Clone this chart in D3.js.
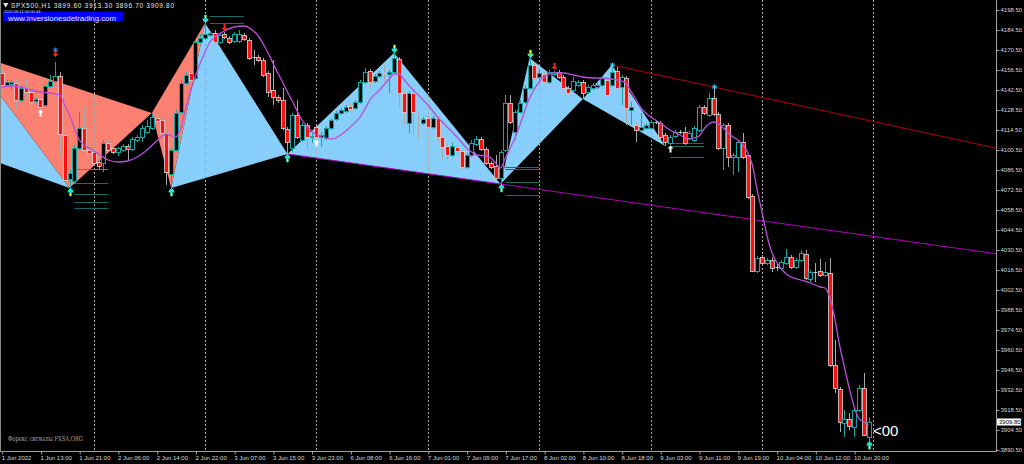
<!DOCTYPE html>
<html><head><meta charset="utf-8">
<script src="https://cdn.jsdelivr.net/npm/d3@7"></script>
<style>html,body{margin:0;padding:0;background:#000;overflow:hidden}svg{display:block}</style>
</head><body><svg id="c" width="1024" height="464"></svg>
<script>
// ---------------- data ----------------
const symbolInfo = "SPX500,H1  3899.60 3913.30 3896.70 3909.80";
const siteName = "www.inversionesdetrading.com";
const serverTime = "2022.06.11 00:00:44";
const footerText = "Форекс сигналы FXSA.ORG";
const lastPrice = 3909.80;
const timerText = "<00";

// [open, high, low, close] per H1 bar
const ohlc = [
[4154.4,4156.5,4143.9,4146.0],[4146.0,4149.5,4144.6,4148.1],[4146.7,4149.5,4142.5,4148.1],[4147.4,4149.5,4129.2,4135.5],[4135.5,4145.3,4134.1,4143.9],
[4143.9,4150.2,4136.2,4141.1],[4141.1,4142.5,4127.1,4134.1],[4134.8,4136.9,4133.4,4136.2],[4136.2,4137.6,4129.2,4130.6],[4132.0,4146.7,4130.6,4145.3],
[4145.3,4153.0,4143.9,4148.8],[4148.8,4162.1,4147.4,4152.3],[4152.3,4155.1,4095.6,4111.7],[4111.0,4114.5,4078.1,4079.5],[4080.2,4086.5,4073.9,4084.4],
[4078.8,4104.0,4076.7,4101.9],[4101.9,4127.1,4100.5,4115.9],[4115.9,4129.9,4099.1,4100.5],[4100.5,4102.6,4097.0,4098.4],[4099.1,4100.5,4090.0,4091.4],
[4092.1,4093.5,4087.2,4089.3],[4091.4,4107.5,4085.1,4105.4],[4105.4,4108.2,4099.1,4100.5],[4101.9,4103.3,4097.7,4099.1],[4099.1,4102.6,4096.3,4101.9],
[4100.5,4104.7,4099.1,4103.3],[4103.3,4104.7,4093.5,4101.2],[4101.2,4109.6,4099.8,4108.2],[4107.5,4111.0,4106.1,4109.6],[4109.6,4118.0,4106.1,4115.9],
[4113.1,4121.5,4111.7,4117.3],[4115.9,4126.4,4114.5,4123.6],[4122.9,4125.0,4119.4,4120.8],[4121.5,4122.9,4111.0,4112.4],[4112.4,4113.8,4076.0,4085.1],
[4083.7,4101.9,4073.9,4100.5],[4100.5,4128.5,4099.1,4126.4],[4127.1,4149.5,4125.7,4147.4],[4147.4,4155.1,4146.0,4153.0],[4154.4,4160.0,4148.1,4149.5],
[4150.9,4177.5,4149.5,4176.1],[4176.1,4181.7,4174.7,4178.9],[4178.9,4189.4,4177.5,4181.7],[4181.0,4183.8,4179.6,4182.4],[4182.4,4184.5,4174.7,4176.1],
[4176.1,4182.4,4174.7,4181.0],[4181.7,4183.1,4178.2,4179.6],[4178.9,4180.3,4174.7,4176.1],[4176.8,4183.1,4175.4,4181.7],[4176.8,4184.5,4175.4,4181.7],
[4181.0,4182.4,4176.8,4178.2],[4177.5,4178.9,4163.5,4164.9],[4165.6,4170.5,4160.0,4165.3],[4165.6,4167.0,4162.1,4163.5],[4163.5,4164.9,4151.6,4153.0],
[4154.4,4155.8,4137.6,4141.1],[4142.5,4163.5,4132.0,4137.6],[4137.6,4139.0,4133.4,4135.5],[4135.5,4143.9,4114.5,4115.9],[4115.2,4116.6,4097.7,4106.1],
[4101.9,4126.4,4099.1,4125.0],[4125.0,4135.5,4108.2,4109.6],[4107.5,4119.4,4106.1,4118.0],[4118.0,4119.4,4100.5,4109.6],[4109.6,4112.4,4105.4,4110.3],
[4116.6,4118.0,4108.2,4109.6],[4109.6,4113.1,4102.6,4111.0],[4108.9,4117.3,4107.5,4115.9],[4115.9,4122.9,4114.5,4121.5],[4122.2,4127.8,4120.8,4126.4],
[4126.4,4129.9,4125.0,4128.5],[4127.8,4132.0,4126.4,4130.6],[4131.3,4133.4,4127.1,4129.2],[4129.9,4135.5,4128.5,4134.1],[4134.1,4149.5,4132.7,4148.1],
[4148.1,4157.9,4146.7,4155.1],[4155.8,4157.2,4144.6,4148.1],[4148.8,4153.7,4147.4,4152.3],[4152.3,4155.8,4150.9,4154.4],[4154.4,4160.0,4148.1,4154.1],
[4153.7,4156.5,4140.4,4155.1],[4155.1,4168.4,4153.7,4164.9],[4164.2,4165.6,4129.9,4140.4],[4140.4,4141.8,4118.0,4127.1],[4119.4,4141.8,4112.4,4140.4],
[4140.4,4141.8,4111.0,4127.1],[4120.8,4127.1,4108.2,4120.5],[4119.4,4123.6,4118.0,4122.2],[4122.9,4124.3,4115.2,4116.6],[4116.6,4124.3,4115.2,4122.9],
[4122.9,4124.3,4106.1,4109.6],[4109.6,4111.0,4093.5,4102.6],[4103.3,4104.7,4093.5,4097.0],[4097.0,4106.1,4095.6,4103.3],[4102.6,4104.0,4098.4,4099.8],
[4099.8,4101.2,4087.2,4088.6],[4088.6,4098.4,4087.2,4097.0],[4097.0,4107.5,4095.6,4105.4],[4104.7,4110.3,4103.3,4108.2],[4108.2,4109.6,4099.8,4101.2],
[4101.2,4102.6,4090.0,4091.4],[4091.4,4092.8,4087.2,4088.6],[4089.3,4097.0,4079.5,4080.9],[4080.9,4100.5,4076.7,4099.1],[4100.5,4139.0,4099.1,4133.4],
[4133.4,4139.0,4118.7,4120.1],[4113.1,4128.5,4107.5,4127.1],[4127.1,4135.5,4125.7,4133.4],[4134.1,4146.0,4132.7,4143.9],[4143.9,4164.9,4142.5,4160.0],
[4160.0,4162.1,4149.5,4150.9],[4151.6,4156.5,4149.5,4154.4],[4153.7,4155.1,4146.7,4148.1],[4148.1,4156.5,4146.7,4155.1],[4153.7,4155.8,4152.3,4155.1],
[4155.1,4156.5,4150.2,4151.6],[4151.6,4153.0,4142.5,4143.9],[4143.9,4145.3,4139.0,4140.4],[4142.5,4151.6,4141.1,4148.8],[4146.0,4149.5,4144.6,4148.1],
[4148.1,4149.5,4136.2,4140.4],[4141.1,4146.0,4139.7,4144.6],[4143.9,4147.4,4142.5,4146.0],[4144.6,4147.4,4143.2,4146.0],[4146.0,4152.3,4144.6,4150.9],
[4149.5,4150.9,4137.6,4139.0],[4146.0,4160.0,4144.6,4155.1],[4155.8,4158.6,4142.5,4143.9],[4144.6,4153.0,4132.0,4151.6],[4150.9,4152.3,4118.0,4129.9],
[4128.5,4134.1,4118.0,4130.6],[4118.0,4120.1,4106.1,4114.5],[4114.5,4126.4,4113.1,4116.6],[4115.9,4119.4,4114.5,4118.0],[4115.9,4121.5,4114.5,4120.1],
[4120.1,4121.5,4118.7,4119.8],[4119.4,4120.8,4108.2,4109.6],[4111.0,4112.4,4103.3,4106.1],[4105.4,4111.0,4104.0,4109.6],[4110.3,4114.5,4108.9,4113.1],
[4113.1,4114.5,4111.7,4112.8],[4113.1,4116.6,4104.0,4105.4],[4108.9,4113.8,4107.5,4112.4],[4107.5,4117.3,4106.1,4115.9],[4114.5,4132.0,4113.1,4130.6],
[4130.6,4132.0,4125.0,4126.4],[4125.0,4140.4,4123.6,4136.9],[4136.9,4144.6,4124.3,4125.7],[4125.7,4127.1,4100.5,4101.9],[4101.9,4119.4,4086.5,4118.0],
[4118.0,4119.4,4088.6,4095.6],[4095.6,4098.4,4083.0,4097.0],[4095.6,4107.5,4085.1,4106.1],[4106.1,4112.4,4094.2,4095.6],[4097.0,4098.4,4066.2,4067.6],
[4068.3,4069.7,4015.1,4015.8],[4015.8,4026.3,4014.4,4024.9],[4025.6,4027.0,4020.0,4021.4],[4021.4,4024.9,4020.0,4023.5],[4023.5,4025.6,4015.1,4017.9],
[4018.6,4020.7,4015.8,4018.3],[4017.9,4023.5,4016.5,4022.1],[4021.4,4031.2,4020.0,4025.6],[4025.6,4027.0,4017.2,4018.6],[4018.6,4024.9,4017.2,4023.5],
[4023.5,4030.5,4022.1,4028.4],[4027.7,4030.5,4009.5,4010.9],[4010.2,4016.5,4008.1,4015.1],[4015.1,4021.4,4008.1,4014.8],[4015.8,4024.2,4011.6,4013.0],
[4013.0,4022.1,4011.6,4015.1],[4014.4,4024.9,3948.6,3950.0],[3950.0,3967.5,3930.4,3933.9],[3933.2,3934.6,3903.1,3910.1],[3909.4,3918.5,3899.6,3912.2],
[3912.2,3916.4,3904.5,3907.3],[3906.6,3920.6,3899.6,3918.5],[3918.5,3936.0,3917.1,3933.9],[3933.9,3944.4,3900.3,3901.0],[3899.6,3913.3,3896.7,3909.8]
];

// moving average (read at sampled bars)
const maBars = [0,2,4,6,8,10,12,13,14,15,16,18,20,22,24,26,28,30,32,34,35,36,37,38,39,40,41,42,43,44,46,48,50,52,53,54,55,56,57,58,59,60,61,62,63,64,65,66,67,68,69,70,72,74,75,76,78,80,81,82,83,84,86,88,90,92,94,96,97,98,100,101,102,103,104,105,106,107,108,109,110,111,112,114,116,118,120,122,124,126,128,129,130,131,132,133,134,136,138,140,142,143,144,145,146,147,148,149,150,151,152,153,154,155,156,157,158,159,160,161,162,163,165,167,169,170,171,172,173,174,175,176,177,178,179];
const maValues = [4144.6,4145.3,4144.6,4142.5,4141.1,4140.4,4139.0,4132.0,4125.0,4115.9,4107.5,4101.9,4097.7,4093.5,4092.1,4092.8,4095.6,4100.5,4106.8,4111.7,4110.3,4109.6,4115.9,4129.9,4141.8,4152.3,4161.4,4169.1,4176.1,4179.6,4183.8,4186.6,4187.3,4183.8,4180.3,4174.7,4168.4,4161.4,4154.4,4148.1,4141.1,4134.8,4127.8,4121.5,4117.3,4113.8,4111.0,4109.6,4108.9,4108.2,4108.9,4111.0,4116.6,4123.6,4129.2,4135.5,4142.5,4150.2,4153.7,4153.7,4150.2,4146.0,4139.0,4132.0,4123.6,4116.6,4109.6,4101.9,4099.1,4097.0,4096.3,4094.9,4091.4,4087.9,4094.9,4101.9,4108.9,4118.0,4127.8,4136.9,4143.2,4148.1,4151.6,4154.4,4154.4,4153.0,4151.6,4150.9,4150.9,4150.2,4148.8,4146.7,4141.1,4135.5,4129.9,4126.4,4123.6,4119.4,4114.5,4111.0,4108.2,4108.9,4110.3,4115.2,4118.7,4120.1,4118.7,4115.9,4112.4,4109.6,4107.5,4104.0,4099.1,4090.0,4072.5,4056.9,4040.8,4029.1,4022.1,4017.2,4013.7,4011.6,4009.5,4007.4,4004.6,4003.9,3996.9,3982.9,3964.0,3948.6,3933.9,3921.0,3912.6,3910.1,3908.0];

// harmonic / zigzag patterns: [bar, price]  (X, A, B, C, D)
const zzSalmon = [[-7,4169.1],[14,4073.9],[31,4126.4],[35,4073.9],[42,4189.4]];
const zzBlue1  = [[35,4073.9],[42,4189.4],[59,4097.7],[81,4168.4],[103,4076.7]];
const zzBlue2  = [[103,4076.7],[109,4164.9],[120,4136.2],[126,4160.0],[137,4103.3]];
const zzBlue0  = [[-20,4115.4],[-7,4169.1],[14,4073.9]]; // B, C, D of an earlier pattern

// trend lines [bar, price] anchors, extended to the right
const trendMagenta = [[59,4097.7],[103,4076.7]];
const trendRed = [[126,4160.0],[147,4144.6]];

// short level lines [price, fromBar, toBar]
const tealLevels = [[4077.4,15,22],[4069.7,15,22],[4064.1,15,22],[4059.9,15,22],
  [4194.3,43,50],[4189.4,43,50],
  [4088.6,104,111],[4087.2,104,111],[4078.1,104,111],[4069.0,104,111],
  [4105.4,138,145],[4103.3,138,145],[4095.6,138,145]];
const magentaLevels = [[4087.2,15,22]];

// signal markers (bar indexes)
const lowArrowBars = [14,35,59,103,179];
const highArrowBars = [42,81,109];
const starBars = [126,147];
const redArrowBars = [11,46,114];
const whiteArrowBars = [8,65,138];

const separatorBars = [19,42,65,88,111,134,157,180];
const timeLabelBars = [0,8,16,24,32,40,48,56,64,72,80,88,96,104,112,120,128,136,144,152,160,168,176];
const timeLabels = ["1 Jun 2022","1 Jun 13:00","1 Jun 21:00","2 Jun 06:00","2 Jun 14:00","2 Jun 22:00","3 Jun 07:00","3 Jun 15:00","3 Jun 23:00","6 Jun 08:00","6 Jun 16:00","7 Jun 01:00","7 Jun 09:00","7 Jun 17:00","8 Jun 02:00","8 Jun 10:00","8 Jun 18:00","9 Jun 03:00","9 Jun 11:00","9 Jun 19:00","10 Jun 04:00","10 Jun 12:00","10 Jun 20:00"];
const priceTicks = [4198.5,4184.5,4170.5,4156.5,4142.5,4128.5,4114.5,4100.5,4086.5,4072.5,4058.5,4044.5,4030.5,4016.5,4002.5,3988.5,3974.5,3960.5,3946.5,3932.5,3918.5,3904.5,3890.5];

// ---------------- drawing ----------------
const W = 1024, H = 464, plotR = 996, plotB = 451;
const svg = d3.select("#c");
svg.append("rect").attr("width",W).attr("height",H).attr("fill","#000");

const x = d3.scaleLinear().domain([0,179]).range([1.7,868.6]);
const y = d3.scaleLinear().domain([3890.5,4198.5]).range([450,10]);

const plot = svg.append("g");
plot.append("clipPath").attr("id","clip").append("rect").attr("x",0).attr("y",0).attr("width",plotR).attr("height",plotB);
const P = plot.append("g").attr("clip-path","url(#clip)");

const SALMON = "#fa8072", BLUE = "#87cefa";
function tri(pts, color){
  P.append("polygon").attr("points", pts.map(p=>[x(p[0]),y(p[1])].join(",")).join(" ")).attr("fill",color);
}
function pattern(pts, color){
  tri([pts[0],pts[1],pts[2]], color);
  tri([pts[2],pts[3],pts[4]], color);
}
tri(zzBlue0, BLUE);
pattern(zzSalmon, SALMON);
pattern(zzBlue1, BLUE);
pattern(zzBlue2, BLUE);

// day separators
P.selectAll("line.sep").data(separatorBars).enter().append("line")
  .attr("x1",d=>Math.round(x(d))+0.5).attr("x2",d=>Math.round(x(d))+0.5)
  .attr("y1",0).attr("y2",plotB).attr("stroke","#a8a8a8").attr("stroke-width",1).attr("stroke-dasharray","2,2");

// trend lines
function trend(pts, color){
  const x1=x(pts[0][0]), y1=y(pts[0][1]), x2=x(pts[1][0]), y2=y(pts[1][1]);
  const s=(y2-y1)/(x2-x1);
  P.append("line").attr("x1",x1).attr("y1",y1).attr("x2",plotR).attr("y2",y1+s*(plotR-x1))
    .attr("stroke",color).attr("stroke-width",1);
}
trend(trendMagenta,"#b000b8");
trend(trendRed,"#b00000");

// level lines
P.selectAll("line.lvl").data(tealLevels).enter().append("line")
  .attr("x1",d=>x(d[1])).attr("x2",d=>x(d[2])).attr("y1",d=>Math.round(y(d[0]))+0.5).attr("y2",d=>Math.round(y(d[0]))+0.5)
  .attr("stroke","#1d6a6a").attr("stroke-width",1);
P.selectAll("line.mlvl").data(magentaLevels).enter().append("line")
  .attr("x1",d=>x(d[1])).attr("x2",d=>x(d[2])).attr("y1",d=>Math.round(y(d[0]))+0.5).attr("y2",d=>Math.round(y(d[0]))+0.5)
  .attr("stroke","#c040c0").attr("stroke-width",1);

// candles
const TEAL = "#1aa3a3";
const cg = P.append("g");
ohlc.forEach((d,i)=>{
  const [o,h,l,c] = d;
  const cx = Math.round(x(i));
  const bull = c > o + 0.45, doji = Math.abs(c-o) < 0.45;
  const wickCol = bull ? TEAL : "#a8a8a8";
  cg.append("line").attr("x1",cx+0.5).attr("x2",cx+0.5).attr("y1",y(h)).attr("y2",y(l)).attr("stroke",wickCol).attr("stroke-width",1);
  if (doji){
    cg.append("line").attr("x1",cx-1.5).attr("x2",cx+2.5).attr("y1",Math.round(y(o))+0.5).attr("y2",Math.round(y(o))+0.5).attr("stroke","#c8c8c8");
    return;
  }
  const top = Math.round(y(Math.max(o,c))), bot = Math.round(y(Math.min(o,c)));
  cg.append("rect").attr("x",cx-1.5).attr("y",top+0.5).attr("width",4).attr("height",Math.max(1,bot-top))
    .attr("fill", bull ? "#000" : "#ff1010")
    .attr("stroke", bull ? TEAL : "#d8d8d8").attr("stroke-width", bull?1:0.8);
});

// moving average
const ma = maBars.map((b,i)=>[b,maValues[i]]);
P.append("path").datum(ma)
  .attr("d", d3.line().x(d=>x(d[0])).y(d=>y(d[1])).curve(d3.curveMonotoneX))
  .attr("fill","none").attr("stroke","#b84fd6").attr("stroke-width",1.3);

// markers
function arrow(cx, tipY, dir, fill, stroke){
  const s = dir; // 1 = points up (tip at top), -1 = points down
  const pts = [[0,0],[3,3],[1,3],[1,7],[-1,7],[-1,3],[-3,3]].map(p=>[cx+p[0], tipY + s*p[1]]);
  P.append("polygon").attr("points",pts.map(p=>p.join(",")).join(" ")).attr("fill",fill)
   .attr("stroke",stroke||"none").attr("stroke-width",0.6);
}
function star(cx, cy, col){
  P.append("path").attr("d",`M${cx-2.5},${cy}H${cx+2.5}M${cx},${cy-2.5}V${cy+2.5}M${cx-1.8},${cy-1.8}L${cx+1.8},${cy+1.8}M${cx-1.8},${cy+1.8}L${cx+1.8},${cy-1.8}`)
   .attr("stroke",col).attr("stroke-width",1);
}
lowArrowBars.forEach(b=>{
  const cx = Math.round(x(b))+0.5, ly = y(ohlc[b][2]);
  arrow(cx, ly+1, 1, "#ffff00", "#00c8c8");
  star(cx, ly+2.5, "#20e0e0");
});
highArrowBars.forEach(b=>{
  const cx = Math.round(x(b))+0.5, hy = y(ohlc[b][1]);
  arrow(cx, hy-1, -1, "#ffff00", "#00c8c8");
  star(cx, hy-2.5, "#20e0e0");
});
starBars.forEach(b=>{
  const cx = Math.round(x(b))+0.5, hy = y(ohlc[b][1]);
  star(cx, hy, "#40d0ff");
});
redArrowBars.forEach((b,k)=>{
  const cx = Math.round(x(b))+0.5, hy = y(ohlc[b][1]);
  const off = k===0 ? 5 : 1;
  arrow(cx, hy-off, -1, "#ff2020");
  if (k===0) star(cx, hy-off-7, "#3080ff");
});
whiteArrowBars.forEach(b=>{
  const cx = Math.round(x(b))+0.5, ly = y(ohlc[b][2]);
  arrow(cx, ly+0.5, 1, "#ffffff");
});

// plot frame
svg.append("line").attr("x1",0.5).attr("x2",0.5).attr("y1",0).attr("y2",plotB).attr("stroke","#8a8a8a");
svg.append("line").attr("x1",plotR+0.5).attr("x2",plotR+0.5).attr("y1",0).attr("y2",plotB+1).attr("stroke","#a0a0a0");
svg.append("line").attr("x1",0).attr("x2",plotR+1).attr("y1",plotB+0.5).attr("y2",plotB+0.5).attr("stroke","#a0a0a0");

// price axis
const yAxis = d3.axisRight(y).tickValues(priceTicks).tickSize(3).tickPadding(1).tickFormat(d=>d.toFixed(2));
const ya = svg.append("g").attr("transform",`translate(${plotR+0.5},0)`).call(yAxis);
ya.select(".domain").remove();
ya.selectAll("line").attr("stroke","#a0a0a0");
ya.selectAll("text").attr("fill","#d8d8d8").style("font-family","'Liberation Sans',Arial,sans-serif").style("font-size","6px");

// time axis
const xAxis = d3.axisBottom(x).tickValues(timeLabelBars).tickSize(3).tickPadding(1)
  .tickFormat((d,i)=>timeLabels[i]);
const xa = svg.append("g").attr("transform",`translate(0.5,${plotB+0.5})`).call(xAxis);
xa.select(".domain").remove();
xa.selectAll("line").attr("stroke","#a0a0a0");
xa.selectAll("text").attr("fill","#d8d8d8").attr("text-anchor","start").attr("x",-1)
  .style("font-family","'Liberation Sans',Arial,sans-serif").style("font-size","6px");

// last price label
const lpY = Math.round(y(lastPrice));
svg.append("rect").attr("x",plotR+1).attr("y",lpY-3.5).attr("width",24).attr("height",7).attr("fill","#fff").attr("stroke","#888").attr("stroke-width",0.5);
svg.append("text").attr("x",plotR+3).attr("y",lpY+2.3).text(lastPrice.toFixed(2))
  .attr("fill","#000").style("font-family","'Liberation Sans',Arial,sans-serif").style("font-size","6px");

// header
svg.append("path").attr("d","M3,3 L8.5,3 L5.75,7.5 Z").attr("fill","#e0e0e0");
svg.append("text").attr("x",11).attr("y",8).text(symbolInfo).attr("fill","#e8e8e8")
  .attr("textLength",163).attr("lengthAdjust","spacing")
  .style("font-family","'Liberation Sans',Arial,sans-serif").style("font-size","6.5px");
svg.append("rect").attr("x",3).attr("y",11.5).attr("width",120).attr("height",9.5).attr("fill","#0000ff");
svg.append("text").attr("x",4).attr("y",13.1).text(serverTime).attr("fill","#d0d8ff")
  .style("font-family","'Liberation Sans',Arial,sans-serif").style("font-size","4px");
svg.append("text").attr("x",8).attr("y",20.8).text(siteName).attr("fill","#e0e6ff")
  .attr("textLength",108).attr("lengthAdjust","spacingAndGlyphs")
  .style("font-family","'Liberation Sans',Arial,sans-serif").style("font-size","7.5px");

// footer & timer
svg.append("text").attr("x",8).attr("y",440.5).text(footerText).attr("fill","#a8a8a8")
  .attr("textLength",75).attr("lengthAdjust","spacingAndGlyphs")
  .style("font-family","'DejaVu Serif','Liberation Serif',serif").style("font-size","7px");
svg.append("text").attr("x",Math.round(x(179))+4).attr("y",436).text(timerText).attr("fill","#ffffff")
  .style("font-family","'Liberation Sans',Arial,sans-serif").style("font-size","15px");
</script></body></html>
